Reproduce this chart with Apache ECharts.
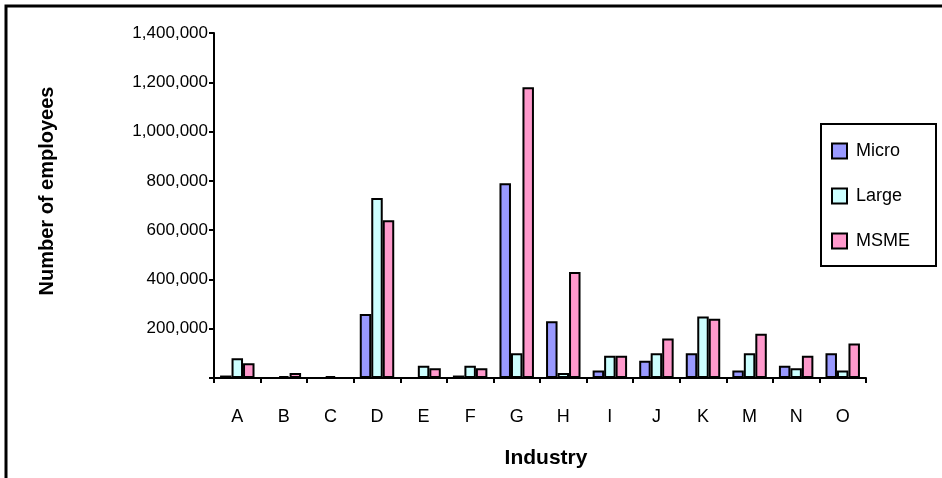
<!DOCTYPE html>
<html>
<head>
<meta charset="utf-8">
<script src="https://cdn.jsdelivr.net/npm/echarts@6/dist/echarts.min.js"></script>
<style>
html,body{margin:0;padding:0;background:#fff;}
#chart{width:942px;height:478px;}
</style>
</head>
<body>
<div id="chart"></div>
<script>
var categories = ['A','B','C','D','E','F','G','H','I','J','K','M','N','O'];
var microValues = [10000, 0, 0, 260000, 0, 10000, 790000, 230000, 30000, 70000, 100000, 30000, 50000, 100000];
var largeValues = [80000, 8000, 8000, 730000, 50000, 50000, 100000, 20000, 90000, 100000, 250000, 100000, 40000, 30000];
var msmeValues = [60000, 20000, 0, 640000, 40000, 40000, 1180000, 430000, 90000, 160000, 240000, 180000, 90000, 140000];
var seriesNames = ['Micro', 'Large', 'MSME'];
var yTickValues = [0, 200000, 400000, 600000, 800000, 1000000, 1200000, 1400000];

var FONT = '"Liberation Sans", Arial, sans-serif';
var colors = ['#9999FF', '#CCFFFF', '#FF99CC'];

function fmt(v) {
  if (v === 0) return '';
  return String(v).replace(/\B(?=(\d{3})+(?!\d))/g, ',');
}

var chart = echarts.init(document.getElementById('chart'), null, {renderer: 'canvas'});

function mkSeries(name, data, color) {
  return {
    name: name,
    type: 'bar',
    data: data,
    barGap: '0%',
    barCategoryGap: '26%',
    itemStyle: {color: color, borderColor: '#000', borderWidth: 2},
    emphasis: {disabled: true},
    animation: false
  };
}

chart.setOption({
  animation: false,
  backgroundColor: '#fff',
  grid: {left: 214, right: 76, top: 33, bottom: 100, containLabel: false},
  xAxis: {
    type: 'category',
    data: categories,
    boundaryGap: true,
    axisLine: {lineStyle: {color: '#000', width: 2}},
    axisTick: {show: true, length: 5, lineStyle: {color: '#000', width: 2}, alignWithLabel: false},
    axisLabel: {color: '#000', fontFamily: FONT, fontSize: 18, margin: 30},
    splitLine: {show: false}
  },
  yAxis: {
    type: 'value',
    min: yTickValues[0],
    max: yTickValues[yTickValues.length - 1],
    interval: yTickValues[1] - yTickValues[0],
    axisLine: {show: true, lineStyle: {color: '#000', width: 2}},
    axisTick: {show: true, length: 5, lineStyle: {color: '#000', width: 2}},
    axisLabel: {color: '#000', fontFamily: FONT, fontSize: 17, margin: 6, formatter: fmt},
    splitLine: {show: false}
  },
  legend: {
    orient: 'vertical',
    left: 821,
    top: 124,
    data: seriesNames,
    icon: 'rect',
    itemWidth: 15,
    itemHeight: 15,
    itemGap: 27,
    padding: [18, 26, 16, 10],
    borderColor: '#000',
    borderWidth: 2,
    backgroundColor: '#fff',
    selectedMode: false,
    textStyle: {color: '#000', fontFamily: FONT, fontSize: 18, padding: [0, 0, 0, 4]}
  },
  series: [
    mkSeries(seriesNames[0], microValues, colors[0]),
    mkSeries(seriesNames[1], largeValues, colors[1]),
    mkSeries(seriesNames[2], msmeValues, colors[2])
  ],
  graphic: [
    {
      type: 'rect',
      shape: {x: 6, y: 6, width: 960, height: 500},
      style: {fill: 'none', stroke: '#000', lineWidth: 3},
      silent: true
    },
    {
      type: 'text',
      x: 47, y: 191,
      rotation: Math.PI / 2,
      style: {
        text: 'Number of employees',
        fill: '#000',
        font: 'bold 20px ' + FONT,
        align: 'center',
        verticalAlign: 'middle'
      }
    },
    {
      type: 'text',
      x: 546, y: 458,
      style: {
        text: 'Industry',
        fill: '#000',
        font: 'bold 21px ' + FONT,
        align: 'center',
        verticalAlign: 'middle'
      }
    }
  ]
});
</script>
</body>
</html>
